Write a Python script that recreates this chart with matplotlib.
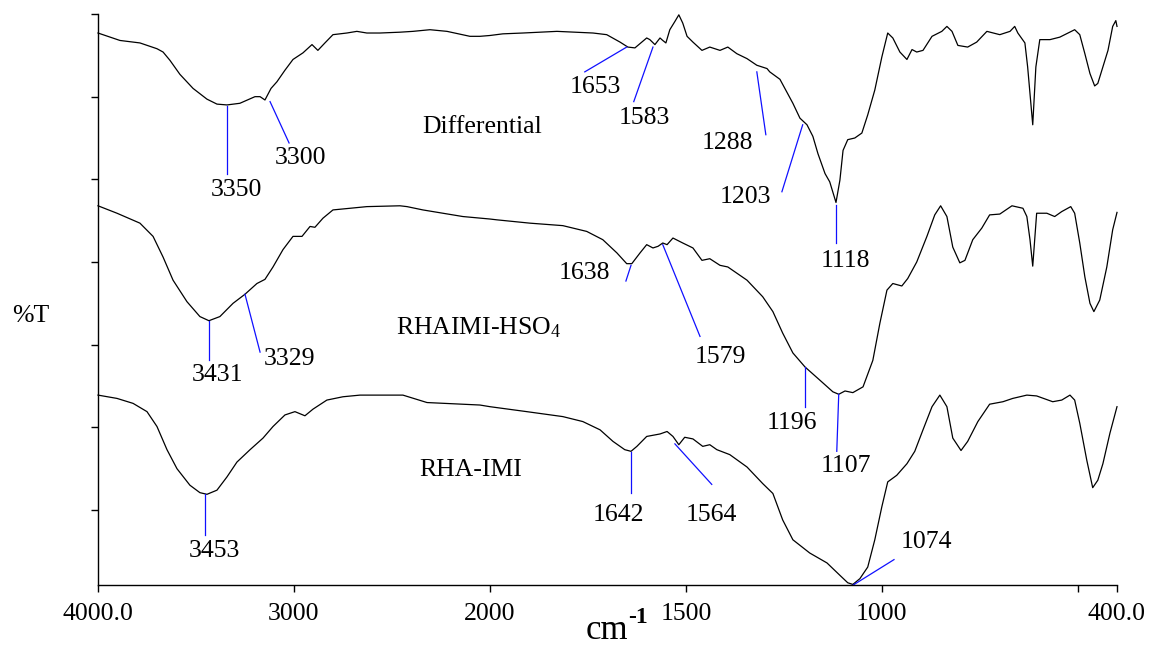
import numpy as np
import matplotlib
matplotlib.use("Agg")
import matplotlib.pyplot as plt

# ---- FTIR spectra (wavenumber in cm-1, offset transmittance) ----
diff_wn = [4000, 3888, 3786, 3699, 3668, 3633, 3582, 3515, 3444, 3393, 3342, 3276, 3199, 3173, 3148,
           3117, 3087, 3046, 3005, 2954, 2908, 2878, 2842, 2801, 2730, 2679, 2628, 2561, 2459, 2393,
           2306, 2219, 2102, 2051, 2000, 1967, 1916, 1829, 1737, 1702, 1668, 1648, 1630, 1600, 1592,
           1579, 1566, 1559, 1551, 1541, 1528, 1518, 1508, 1497, 1482, 1459, 1439, 1413, 1393, 1370,
           1344, 1319, 1293, 1286, 1260, 1227, 1209, 1191, 1176, 1163, 1145, 1133, 1117, 1107, 1099,
           1087, 1069, 1051, 1036, 1018, 1000, 985, 972, 954, 936, 923, 911, 895, 872, 847,
           834, 821, 806, 781, 758, 732, 699, 673, 661, 653, 635, 628, 615, 607, 597,
           571, 546, 508, 495, 482, 469, 457, 449, 436, 423, 411, 403, 400]
diff_t = [57.7, 56.8, 56.5, 55.8, 55.4, 54.4, 52.7, 51.0, 49.7, 49.1, 49.0, 49.2, 50.0, 50.0, 49.6,
          51.0, 51.8, 53.2, 54.5, 55.3, 56.3, 55.6, 56.5, 57.5, 57.7, 57.9, 57.7, 57.7, 57.8, 57.9,
          58.1, 57.9, 57.3, 57.3, 57.4, 57.6, 57.7, 57.9, 57.7, 57.5, 56.6, 56.0, 55.9, 57.1, 56.9,
          56.3, 57.1, 56.8, 56.5, 58.1, 59.1, 59.9, 58.9, 57.3, 56.6, 55.6, 56.0, 55.6, 56.0, 55.2,
          54.6, 53.8, 53.4, 53.0, 52.1, 49.2, 47.4, 46.6, 45.2, 43.1, 40.7, 39.7, 37.2, 39.9, 43.5,
          44.8, 45.0, 45.6, 47.8, 50.8, 54.8, 57.7, 57.1, 55.4, 54.5, 55.7, 55.4, 55.6, 57.3, 57.9,
          58.5, 57.9, 56.2, 56.0, 56.6, 57.9, 57.5, 57.9, 58.5, 57.7, 56.5, 53.6, 46.6, 53.6, 56.9,
          56.9, 57.2, 58.1, 57.5, 55.2, 52.8, 51.3, 51.6, 53.6, 55.6, 58.5, 59.2, 58.5]

hso4_wn = [4000, 3903, 3786, 3719, 3668, 3617, 3546, 3480, 3434, 3378, 3311, 3250, 3189, 3148, 3107,
           3056, 3005, 2959, 2918, 2893, 2852, 2801, 2714, 2628, 2459, 2423, 2342, 2138, 2000, 1982,
           1898, 1814, 1753, 1712, 1676, 1651, 1638, 1617, 1600, 1584, 1571, 1559, 1548, 1533, 1508,
           1482, 1459, 1439, 1413, 1393, 1344, 1304, 1278, 1253, 1227, 1196, 1158, 1125, 1110, 1094,
           1074, 1048, 1023, 1005, 987, 972, 949, 934, 911, 885, 865, 850, 834, 819, 801,
           788, 768, 745, 725, 699, 668, 640, 630, 622, 615, 610, 605, 579, 559, 541,
           518, 508, 495, 482, 469, 459, 444, 426, 411, 400]
hso4_t = [36.8, 35.9, 34.7, 33.1, 30.6, 27.8, 25.2, 23.4, 22.9, 23.4, 25.0, 26.1, 27.4, 27.9, 29.4,
          31.5, 33.1, 33.1, 34.3, 34.2, 35.3, 36.3, 36.5, 36.7, 36.8, 36.7, 36.3, 35.5, 35.2, 35.1,
          34.7, 34.4, 33.7, 32.7, 31.1, 29.8, 29.8, 31.1, 32.1, 31.7, 31.9, 32.3, 32.1, 32.9, 32.3,
          31.7, 30.2, 30.4, 29.6, 29.4, 27.8, 25.8, 24.0, 21.4, 19.0, 17.3, 15.7, 14.3, 14.0, 14.4,
          14.2, 14.9, 18.1, 22.6, 26.6, 27.4, 27.1, 28.0, 30.0, 33.1, 35.7, 36.8, 35.5, 31.8, 29.9,
          30.2, 32.7, 34.1, 35.7, 35.8, 36.8, 36.5, 35.5, 32.7, 29.5, 32.7, 35.9, 35.9, 35.5, 36.1,
          36.7, 35.9, 32.3, 28.2, 25.0, 24.0, 25.4, 29.4, 33.9, 36.0]

imi_wn = [4000, 3903, 3821, 3750, 3699, 3648, 3597, 3531, 3480, 3444, 3393, 3342, 3291, 3224, 3158,
          3107, 3046, 2995, 2944, 2903, 2832, 2750, 2663, 2444, 2321, 2051, 2000, 1906, 1814, 1763,
          1719, 1686, 1656, 1640, 1625, 1600, 1566, 1548, 1533, 1518, 1503, 1482, 1457, 1439, 1421,
          1388, 1344, 1304, 1278, 1253, 1227, 1184, 1140, 1107, 1087, 1074, 1056, 1036, 1018, 1000,
          985, 962, 936, 916, 895, 872, 852, 834, 819, 798, 781, 755, 725, 691, 666,
          630, 605, 564, 541, 520, 508, 495, 477, 462, 449, 436, 418, 400]
imi_t = [13.9, 13.5, 12.9, 11.9, 10.1, 7.3, 5.0, 3.0, 2.1, 1.9, 2.4, 4.0, 5.8, 7.3, 8.7,
         10.1, 11.5, 11.9, 11.4, 12.2, 13.3, 13.7, 13.9, 13.9, 13.0, 12.7, 12.5, 11.9, 11.3, 10.7,
         9.7, 8.3, 7.3, 7.1, 7.7, 8.9, 9.2, 9.5, 8.9, 7.9, 8.8, 8.6, 7.7, 7.9, 7.3,
         6.7, 5.2, 3.2, 2.0, -1.2, -3.6, -5.2, -6.4, -7.9, -8.8, -9.0, -8.3, -6.9, -3.6, 0.4,
         3.4, 4.2, 5.6, 7.1, 9.7, 12.5, 13.9, 12.5, 8.7, 7.2, 8.3, 10.7, 12.8, 13.1, 13.5,
         13.9, 13.8, 13.1, 13.3, 13.9, 13.3, 10.5, 6.0, 2.7, 3.6, 5.6, 9.3, 12.5]

# Sample names and where they sit
sample_names = ["Differential", r"RHAIMI-HSO$_\mathrm{4}$", "RHA-IMI"]
sample_name_pos = [(2041, 46.3), (2056, 22.1), (2097, 4.8)]

# Peak labels: text, leader start, leader end, text centre
peak_marks = [
    ("3350", (3342, 48.9), (3342, 40.6), (3296, 38.7)),
    ("3300", (3122, 49.4), (3025, 44.4), (2969, 42.6)),
    ("1653", (1651, 56.0), (1758, 53.0), (1732, 51.2)),
    ("1583", (1584, 56.0), (1633, 49.4), (1607, 47.4)),
    ("1288", (1319, 53.0), (1296, 45.4), (1393, 44.4)),
    ("1203", (1202, 46.6), (1255, 38.5), (1349, 37.9)),
    ("1118", (1117, 36.9), (1117, 32.3), (1094, 30.1)),
    ("3431", (3434, 22.9), (3434, 18.1), (3388, 16.3)),
    ("3329", (3250, 26.1), (3173, 19.1), (3025, 18.3)),
    ("1638", (1640, 29.6), (1653, 27.7), (1758, 28.7)),
    ("1579", (1559, 32.1), (1464, 21.0), (1413, 18.5)),
    ("1196", (1196, 17.3), (1196, 12.5), (1230, 10.5)),
    ("1107", (1110, 14.0), (1115, 7.1), (1092, 5.3)),
    ("3453", (3454, 1.9), (3454, -3.0), (3408, -5.0)),
    ("1642", (1640, 7.0), (1640, 2.1), (1671, -0.6)),
    ("1564", (1528, 8.0), (1434, 3.1), (1434, -0.6)),
    ("1074", (1074, -9.1), (969, -6.0), (885, -3.9)),
]

x_ticks = [4000, 3000, 2000, 1500, 1000, 500, 400]
x_tick_labels = ["4000.0", "3000", "2000", "1500", "1000", "", "400.0"]

# ---- styling ----
plt.rcParams["font.family"] = ["Liberation Serif", "DejaVu Serif"]
plt.rcParams["mathtext.fontset"] = "custom"
plt.rcParams["mathtext.rm"] = "Liberation Serif"
plt.rcParams["mathtext.it"] = "Liberation Serif:italic"
plt.rcParams["mathtext.bf"] = "Liberation Serif:bold"

FS = 18.5

fig = plt.figure(figsize=(11.56, 6.48), dpi=100)
ax = fig.add_axes([98 / 1156, 63 / 648, 1019 / 1156, 571 / 648])


# Wavenumber axis is compressed by a factor of two above 2000 cm-1
def _fwd(x):
    x = np.asarray(x, dtype=float)
    return np.where(x >= 2000, 2000 + (x - 2000) / 2.0, x)


def _inv(u):
    u = np.asarray(u, dtype=float)
    return np.where(u >= 2000, 2000 + (u - 2000) * 2.0, u)


ax.set_xscale("function", functions=(_fwd, _inv))
ax.set_xlim(4000, 400)
ax.set_ylim(-9.07, 60)

for wn, t in [(diff_wn, diff_t), (hso4_wn, hso4_t), (imi_wn, imi_t)]:
    ax.plot(wn, t, color="black", lw=0.9, clip_on=False, solid_joinstyle="round")

for text, p0, p1, pt in peak_marks:
    ax.plot([p0[0], p1[0]], [p0[1], p1[1]], color="#1010ff", lw=0.9, clip_on=False)
    ax.text(pt[0], pt[1], text, ha="center", va="center", fontsize=FS)

for name, (x, y) in zip(sample_names, sample_name_pos):
    ax.text(x, y, name, ha="center", va="center", fontsize=FS)

ax.set_xticks(x_ticks)
ax.set_xticklabels(x_tick_labels, fontsize=FS)
ax.xaxis.set_minor_locator(matplotlib.ticker.NullLocator())
ax.set_yticks(np.arange(0, 61, 10))
ax.set_yticklabels([])
ax.tick_params(axis="both", direction="out", length=5, width=1, color="black")
ax.tick_params(axis="x", pad=8)

for side in ("top", "right"):
    ax.spines[side].set_visible(False)
for side in ("left", "bottom"):
    ax.spines[side].set_linewidth(1)

fig.text(31 / 1156, 1 - 316 / 648, "%T", ha="center", va="center", fontsize=FS)
# axis unit: "cm" with a bold superscript "-1"
fig.text(628 / 1156, 9 / 648, "cm", ha="right", va="baseline", fontsize=25)
fig.text(628 / 1156, 25 / 648, "-1", ha="left", va="baseline", fontsize=17, fontweight="bold")

fig.savefig("out.png", dpi=100)
